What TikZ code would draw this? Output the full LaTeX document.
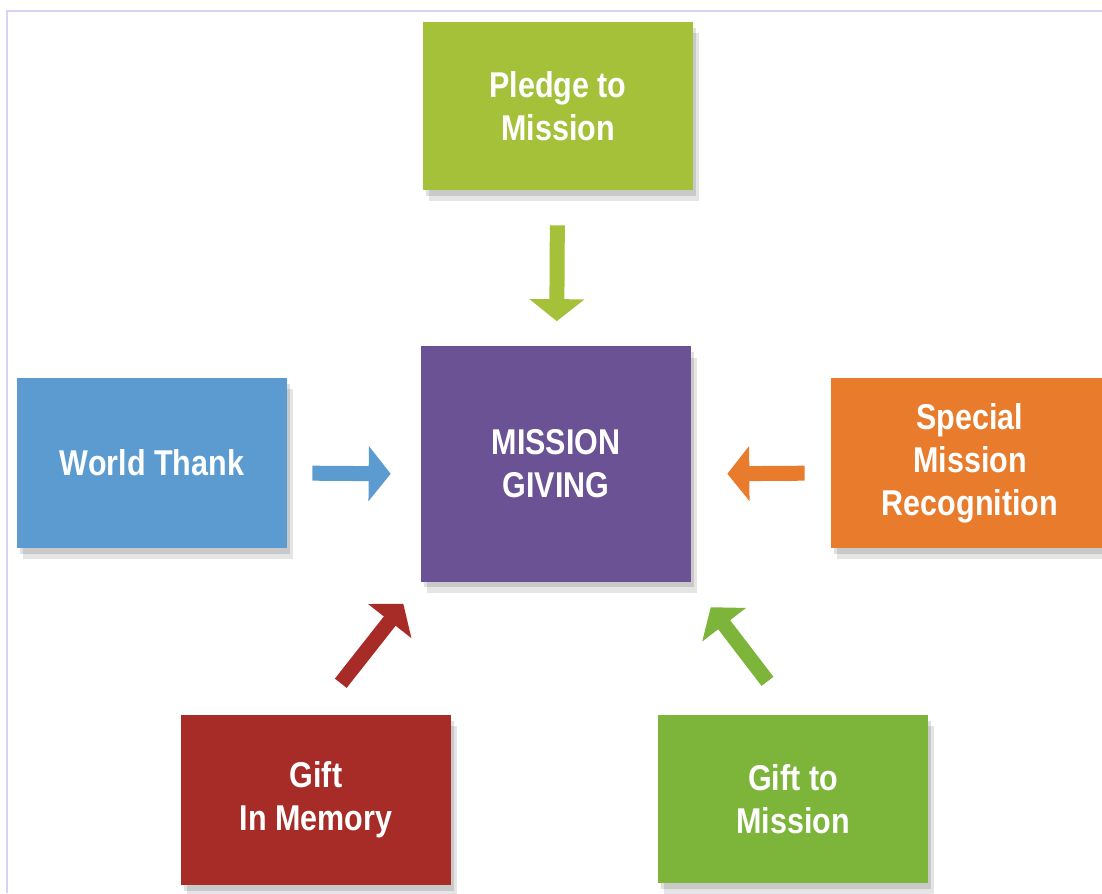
\documentclass[tikz,border=0pt]{standalone}
\usepackage{fontspec}
\setmainfont{Liberation Sans}[FakeStretch=0.85]
\usepackage{tikz}
\usetikzlibrary{arrows.meta, shadows}

\definecolor{pledgegreen}{HTML}{A5C13A}
\definecolor{missionpurple}{HTML}{6A5294}
\definecolor{thankblue}{HTML}{5B9BCF}
\definecolor{specialorange}{HTML}{E97C2C}
\definecolor{memoryred}{HTML}{A72C27}
\definecolor{giftgreen}{HTML}{7DB53A}
\definecolor{framecol}{HTML}{D4D4F7}

\begin{document}
\begin{tikzpicture}[x=0.025cm, y=-0.025cm,
    softshadow/.style={drop shadow={shadow xshift=2pt, shadow yshift=-4pt, fill=black, opacity=0.12},
                       drop shadow={shadow xshift=4pt, shadow yshift=-8pt, fill=black, opacity=0.10}},
    box/.style={rectangle, minimum width=6.75cm, minimum height=4.2cm, inner sep=0pt,
                text=white, align=center, font=\fontsize{25.5}{30.5}\selectfont\bfseries, softshadow},
    bigarrow/.style={-{Triangle[width=1.35cm, length=0.55cm]}, line width=0.375cm}]
    \useasboundingbox (0,0) rectangle (1102,893);
    \draw[framecol, line width=1.2pt] (1102,11) -- (7,11) -- (7,893);

    \node[box, fill=pledgegreen] (pledge) at (558,106) {Pledge to\\Mission};
    \node[box, fill=missionpurple, minimum height=5.875cm] (mission) at (556,464) {MISSION\\GIVING};
    \node[box, fill=thankblue, minimum height=4.25cm] (thank) at (152,463) {World Thank};
    \node[box, fill=specialorange, minimum width=6.95cm, minimum height=4.25cm] (special) at (970,463) {Special\\Mission\\Recognition};
    \node[box, fill=memoryred, minimum height=4.25cm] (memory) at (316,800) {Gift\\In Memory};
    \node[box, fill=giftgreen] (gift) at (793,799) {Gift to\\Mission};

    \draw[bigarrow, pledgegreen, shorten <=0.875cm, shorten >=0.625cm] (pledge) -- (mission);
    \draw[bigarrow, thankblue, shorten <=0.625cm, shorten >=0.75cm] ([yshift=-0.25cm]thank.east) -- ([yshift=-0.25cm]mission.west);
    \draw[bigarrow, specialorange, shorten <=0.65cm, shorten >=0.9cm] ([yshift=-0.25cm]special.west) -- ([yshift=-0.25cm]mission.east);
    \draw[bigarrow, memoryred, shorten <=1cm, shorten >=0.7cm] (memory.north) -- (mission.south west);
    \draw[bigarrow, giftgreen, shorten <=1.05cm, shorten >=0.8cm] (gift.north) -- (mission.south east);
\end{tikzpicture}
\end{document}
